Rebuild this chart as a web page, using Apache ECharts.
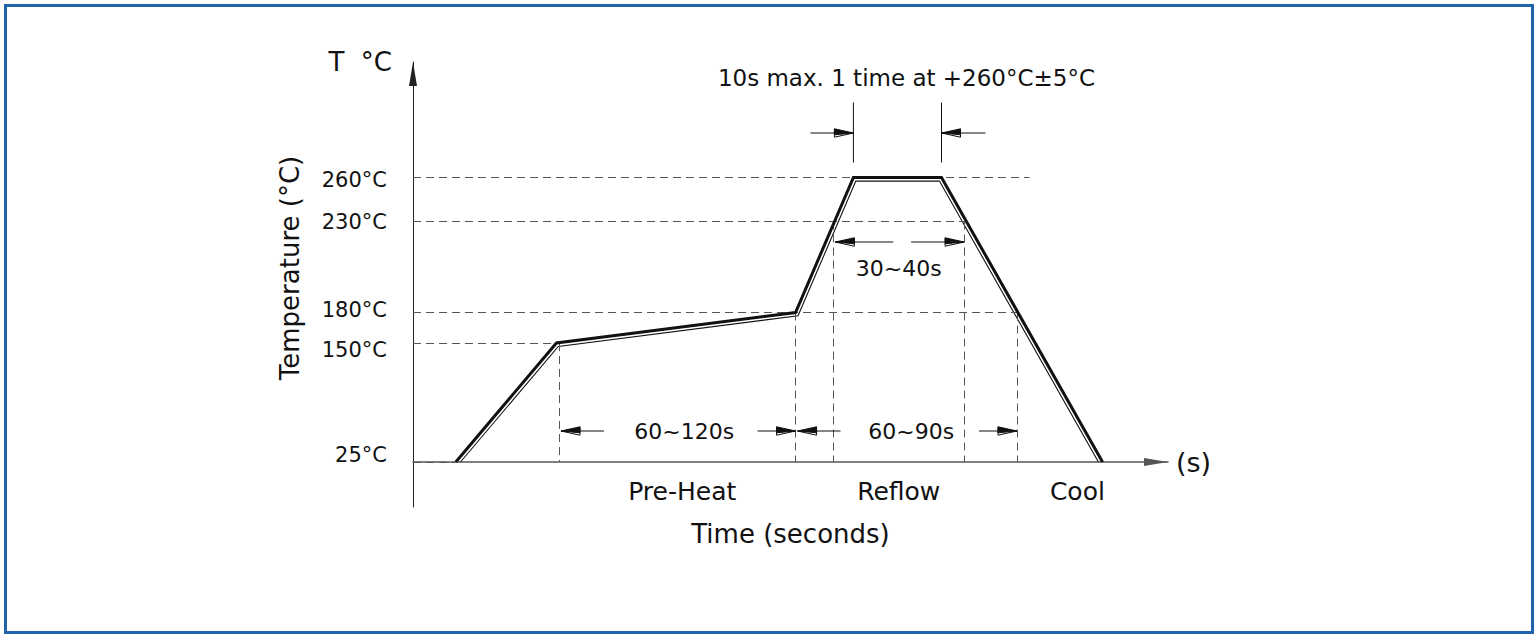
<!DOCTYPE html>
<html>
<head>
<meta charset="utf-8">
<script src="https://cdn.jsdelivr.net/npm/echarts@6/dist/echarts.min.js"></script>
<style>
html,body{margin:0;padding:0;background:#fff;}
#c{width:1535px;height:635px;}
</style>
</head>
<body>
<div id="c"></div>
<script>
// ---------------- data ----------------
const profileTimes = [17, 57, 152, 175, 210, 274];      // s (schematic time axis)
const profileTemps = [25, 150, 180, 260, 260, 25];      // °C
const tempTicks    = [25, 150, 180, 230, 260];          // °C
const tickLabels   = ['25°C', '150°C', '180°C', '230°C', '260°C'];
const zoneEdges    = [58, 152, 167, 219, 240];          // s : dashed verticals
const zoneEdgeTemps = [150, 180, 230, 230, 180];        // °C where each dashed vertical starts
const peakLineEnd  = 245;                               // s : end of the 260°C dashed line
const zoneNames    = ['Pre-Heat', 'Reflow', 'Cool'];
const zoneLabelTimes = [107, 193, 264];                 // s
const spanLabels   = ['60~120s', '60~90s', '30~40s'];
const peakNote     = '10s max. 1 time at +260°C±5°C';
const xName = 'Time (seconds)', yName = 'Temperature (°C)';
const xUnit = '(s)', yUnit = 'T  °C';

// ---------------- schematic (non-linear) temperature scale ----------------
const scaleStops = [0, 119, 149.5, 240.5, 284.5];       // axis units per tick of the drawing
function warp(t) {
  const n = tempTicks.length;
  for (let i = 0; i < n - 1; i++) {
    if (t <= tempTicks[i + 1] || i === n - 2) {
      const a = tempTicks[i], b = tempTicks[i + 1];
      return scaleStops[i] + (t - a) / (b - a) * (scaleStops[i + 1] - scaleStops[i]);
    }
  }
}
// vertical nudge style of each tick label, as in the drawing
const tickLabelStyle = ['u7', 'd7', 'u3', 'n', 'd3'];

const FONT = "'DejaVu Sans', sans-serif";
const INK = '#111';
const DASH = '#555';

const chart = echarts.init(document.getElementById('c'), null, { renderer: 'svg' });

const profileData = profileTimes.map((t, i) => [t, warp(profileTemps[i])]);

// parallel offset (right-hand side) of a pixel polyline, ends snapped to the start/end y
function offsetPolyline(pts, d) {
  const n = pts.length, u = [], nv = [];
  for (let i = 0; i < n - 1; i++) {
    const dx = pts[i + 1][0] - pts[i][0], dy = pts[i + 1][1] - pts[i][1];
    const L = Math.hypot(dx, dy);
    u.push([dx / L, dy / L]);
    nv.push([-dy / L, dx / L]);
  }
  const out = [];
  {
    const A = [pts[0][0] + nv[0][0] * d, pts[0][1] + nv[0][1] * d];
    const s = (pts[0][1] - A[1]) / u[0][1];
    out.push([A[0] + s * u[0][0], A[1] + s * u[0][1]]);
  }
  for (let k = 1; k < n - 1; k++) {
    const A = [pts[k][0] + nv[k - 1][0] * d, pts[k][1] + nv[k - 1][1] * d];
    const B = [pts[k][0] + nv[k][0] * d, pts[k][1] + nv[k][1] * d];
    const u1 = u[k - 1], u2 = u[k];
    const cr = u1[0] * u2[1] - u1[1] * u2[0];
    const s = ((B[0] - A[0]) * u2[1] - (B[1] - A[1]) * u2[0]) / cr;
    out.push([A[0] + s * u1[0], A[1] + s * u1[1]]);
  }
  {
    const j = n - 2;
    const A = [pts[n - 1][0] + nv[j][0] * d, pts[n - 1][1] + nv[j][1] * d];
    const s = (pts[n - 1][1] - A[1]) / u[j][1];
    out.push([A[0] + s * u[j][0], A[1] + s * u[j][1]]);
  }
  return out;
}

// CAD style arrow head; dir = +1 points right, -1 points left
function arrowHead(children, tipX, y, dir) {
  const L = 19, base = tipX - dir * L;
  children.push({ type: 'polygon', shape: { points: [[tipX, y], [base, y - 4.2], [base, y + 1.8]] },
    style: { fill: INK, stroke: INK, lineWidth: 1, lineJoin: 'round' } });
  children.push({ type: 'polyline', shape: { points: [[tipX, y], [base, y + 4.2], [base, y - 4.2]] },
    style: { fill: null, stroke: INK, lineWidth: 1 } });
}
function arrow(children, tipX, tailX, y) {
  const dir = tipX > tailX ? 1 : -1;
  children.push({ type: 'line', shape: { x1: tailX, y1: y, x2: tipX, y2: y }, style: { stroke: INK, lineWidth: 1 } });
  arrowHead(children, tipX, y, dir);
}
function txt(children, s, x, y, size) {
  children.push({ type: 'text', style: { text: s, x: x, y: y, align: 'center', verticalAlign: 'middle',
    font: size + 'px ' + FONT, fill: INK } });
}

const markLines = [];
const hEnds = { 25: profileTimes[0], 150: zoneEdges[0], 180: zoneEdges[4], 230: zoneEdges[3], 260: peakLineEnd };
tempTicks.forEach(t => markLines.push([{ coord: [0, warp(t)] }, { coord: [hEnds[t], warp(t)] }]));
zoneEdges.forEach((t, i) => markLines.push([{ coord: [t, warp(zoneEdgeTemps[i])] }, { coord: [t, warp(25)] }]));

const labelRich = {
  u7: { padding: [0, 0, 14, 0] }, d7: { padding: [14, 0, 0, 0] },
  u3: { padding: [0, 0, 5, 0] }, d3: { padding: [5, 0, 0, 0] }, n: {}
};
Object.values(labelRich).forEach(s => { s.fontFamily = FONT; s.fontSize = 21; s.color = INK; });

const option = {
  animation: false,
  backgroundColor: '#fff',
  graphic: [{
    type: 'rect', left: 3, top: 3, silent: true,
    shape: { width: 1527, height: 627 },
    style: { fill: 'none', stroke: '#2163ad', lineWidth: 3 }
  }],
  grid: { left: 413, right: 367, top: 62, bottom: 128, containLabel: false, outerBoundsMode: 'none' },
  xAxis: [{
    type: 'value', min: 0, max: 300,
    axisLine: { show: true, onZero: true, symbol: ['none', 'triangle'], symbolSize: [8, 24], symbolOffset: [0, -12],
      lineStyle: { color: '#555', width: 1.5 } },
    axisTick: { show: false }, axisLabel: { show: false }, splitLine: { show: false },
    name: xUnit, nameLocation: 'end', nameGap: 8,
    nameTextStyle: { fontFamily: FONT, fontSize: 27, color: INK, padding: [8, 0, 0, 0] }
  }, {
    type: 'value', min: 0, max: 300, position: 'bottom',
    axisLine: { show: false, onZero: false }, axisTick: { show: false }, axisLabel: { show: false }, splitLine: { show: false },
    name: xName, nameLocation: 'middle', nameGap: 14,
    nameTextStyle: { fontFamily: FONT, fontSize: 26, color: INK }
  }],
  yAxis: [{
    type: 'value', min: -45, max: 400,
    axisLine: { show: true, onZero: true, symbol: ['none', 'triangle'], symbolSize: [8, 24], symbolOffset: [0, -12],
      lineStyle: { color: '#222', width: 1 } },
    axisTick: { show: false }, splitLine: { show: false },
    axisLabel: {
      customValues: scaleStops, margin: 26, fontFamily: FONT, fontSize: 21, color: INK, rich: labelRich,
      formatter: v => {
        const i = scaleStops.findIndex(s => Math.abs(s - v) < 1e-6);
        return i >= 0 ? '{' + tickLabelStyle[i] + '|' + tickLabels[i] + '}' : '';
      }
    },
    name: yUnit, nameLocation: 'end', nameGap: 0,
    nameTextStyle: { fontFamily: FONT, fontSize: 26, color: INK, align: 'right', verticalAlign: 'middle', padding: [0, 21, 0, 0] }
  }, {
    type: 'value', min: -45, max: 400, position: 'left',
    axisLine: { show: false, onZero: false }, axisTick: { show: false }, axisLabel: { show: false }, splitLine: { show: false },
    name: yName, nameLocation: 'middle', nameRotate: 90, nameGap: 110,
    nameTextStyle: { fontFamily: FONT, fontSize: 26, color: INK, padding: [0, 0, 0, 33] }
  }],
  series: [
    {
      name: 'Reflow profile', type: 'line', data: profileData, symbol: 'none', clip: false,
      lineStyle: { color: INK, width: 3, join: 'miter' }, z: 5,
      markLine: { silent: true, symbol: ['none', 'none'], label: { show: false },
        lineStyle: { type: [8, 5], color: DASH, width: 1 }, data: markLines }
    },
    {
      name: 'Profile outline', type: 'custom', data: [[0, 0]], clip: false, z: 4, silent: true,
      renderItem: (params, api) => {
        const pts = profileData.map(p => api.coord(p));
        return { type: 'polyline', shape: { points: offsetPolyline(pts, 3.6) },
          style: { fill: null, stroke: INK, lineWidth: 1.1 } };
      }
    },
    {
      name: 'Annotations', type: 'custom', data: [[0, 0]], clip: false, z: 6, silent: true,
      renderItem: (params, api) => {
        const X = t => api.coord([t, 0])[0];
        const Y = t => api.coord([0, warp(t)])[1];
        const base = Y(25), y230 = Y(230), y260 = Y(260);
        const c = [];
        const yA = base - 31;
        const e = zoneEdges.map(X);
        arrow(c, e[0] + 2, e[0] + 45, yA);
        arrow(c, e[1], e[1] - 38, yA);
        txt(c, spanLabels[0], (e[0] + e[1]) / 2 + 7, yA, 22);
        arrow(c, e[1] + 2, e[1] + 45, yA);
        arrow(c, e[4], e[4] - 38, yA);
        txt(c, spanLabels[1], (e[1] + e[4]) / 2 + 5, yA, 22);
        const yB = y230 + 20.5;
        arrow(c, e[2] + 2, e[2] + 60, yB);
        arrow(c, e[3], e[3] - 53, yB);
        txt(c, spanLabels[2], (e[2] + e[3]) / 2, yB + 26, 22);
        const p1 = X(profileTimes[3]), p2 = X(profileTimes[4]);
        [p1, p2].forEach(x => c.push({ type: 'line', shape: { x1: x, y1: y260 - 75, x2: x, y2: y260 - 15 },
          style: { stroke: INK, lineWidth: 1 } }));
        const yC = y260 - 44.5;
        arrow(c, p1, p1 - 43, yC);
        arrow(c, p2, p2 + 44, yC);
        txt(c, peakNote, (p1 + p2) / 2 + 9, y260 - 99.5, 23);
        zoneNames.forEach((nm, i) => txt(c, nm, X(zoneLabelTimes[i]), base + 29, 25));
        return { type: 'group', children: c };
      }
    }
  ]
};
chart.setOption(option);
</script>
</body>
</html>
